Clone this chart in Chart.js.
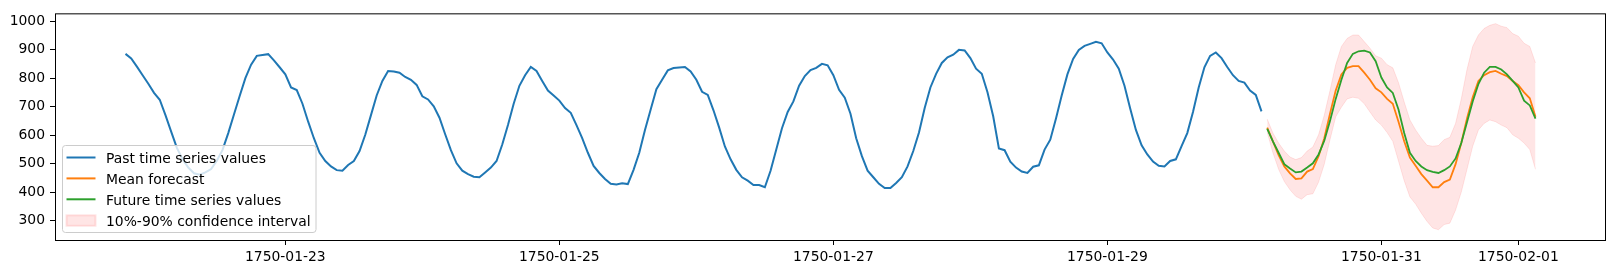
<!DOCTYPE html>
<html>
<head>
<meta charset="utf-8">
<script src="https://cdn.jsdelivr.net/npm/chart.js@4.4.1/dist/chart.umd.min.js"></script>
<style>
	html, body { margin: 0; padding: 0; background: #fff; }
	#wrap { width: 1614px; height: 274px; }
</style>
</head>
<body>
<div id="wrap"><canvas id="grafic"></canvas></div>
<script>
// hours counted from 1750-01-23 00:00
const pastStart = -28;
const forecastStart = 172;

const pastValues = [
	885, 869, 840, 810, 780, 748, 724, 670, 612, 555, 515, 486, 466, 461, 469, 481, 510, 548, 607, 672,
	737, 800, 847, 878, 881, 884, 862, 838,
	813, 767, 758, 710, 647, 589, 538, 509, 490, 477, 475, 495, 509, 544, 601, 670, 739, 790, 825, 823,
	819, 804, 794, 776, 736, 725, 701, 661, 603, 547, 501, 475, 463, 454, 452, 469, 486, 509, 567, 635,
	710, 773,
	810, 839, 825, 790, 756, 739, 721, 695, 678, 635, 589, 538, 492, 467, 446, 429, 427, 431, 428, 478,
	538, 618, 690, 761, 794, 827, 835, 837, 839, 823, 794, 752, 741, 687, 626, 560, 515, 478, 452, 440,
	425, 425, 417, 475, 549, 624, 681, 718, 773, 807, 828, 836, 850, 845, 810, 759, 731, 675, 589, 526,
	475, 452, 429, 414, 414, 432, 452, 490, 544, 609, 695, 767, 815, 853, 873, 882, 899, 897, 870, 833,
	815, 750, 666, 553, 547, 507, 486, 472, 467, 489, 494,
	549, 584, 658, 739, 813, 867, 899, 913, 920, 927, 922, 890, 865, 833, 773, 693, 618, 564, 532, 507,
	492, 490, 509, 515, 561, 607, 681, 767, 838, 878, 890, 870, 839, 810, 790, 784, 756, 741, 683
];
const meanForecast = [
	626, 578, 530, 490, 466, 446, 448, 472, 481, 526, 589, 675, 756, 813, 836, 842, 842, 819, 794, 764,
	750, 727, 710, 647, 578, 521, 492, 463, 440, 417, 417, 435, 444, 498, 572, 658, 733, 790, 810, 821,
	825, 815, 807, 790, 775, 750, 729, 664
];
const futureValues = [
	622, 578, 538, 498, 483, 469, 472, 486, 501, 532, 580, 649, 727, 794, 853, 885, 894, 896, 890, 859,
	802, 767, 748, 690, 607, 538, 509, 490, 477, 471, 467, 477, 490, 518, 572, 645, 718, 779, 819, 839,
	839, 830, 813, 790, 767, 721, 704, 658
];
const lower10 = [
	610, 538, 480, 437, 408, 385, 375, 391, 394, 435, 498, 584, 664, 698, 727, 733, 729, 710, 681, 653,
	635, 609, 578, 509, 440, 383, 358, 326, 297, 274, 268, 286, 291, 337, 400, 480, 561, 618, 641, 653,
	647, 635, 626, 601, 589, 572, 549, 480
];
const upper90 = [
	656, 607, 572, 544, 523, 514, 521, 544, 558, 601, 670, 756, 847, 911, 939, 951, 951, 928, 905, 878,
	870, 847, 836, 784, 716, 653, 618, 589, 564, 561, 563, 584, 592, 641, 727, 830, 911, 951, 974, 985,
	991, 982, 977, 956, 947, 922, 911, 853
];

const tickHours = [0, 48, 96, 144, 192, 216];
const tickLabels = ['1750-01-23', '1750-01-25', '1750-01-27', '1750-01-29', '1750-01-31', '1750-02-01'];
const yTicks = [300, 400, 500, 600, 700, 800, 900, 1000];

const points = (start, vals) => vals.map((v, i) => ({ x: start + i, y: v }));

// matplotlib style 5% margins
const allY = pastValues.concat(meanForecast, futureValues, lower10, upper90);
const yLo = Math.min(...allY), yHi = Math.max(...allY);
const xLo = pastStart, xHi = forecastStart + meanForecast.length - 1;
const padY = (yHi - yLo) * 0.05, padX = (xHi - xLo) * 0.05;

const FONT = '13.9px "DejaVu Sans"';
Chart.defaults.font.family = 'DejaVu Sans';
Chart.defaults.font.size = 13.9;
Chart.defaults.color = '#000';

const frame = {
	id: 'frame',
	afterDraw(chart) {
		const ctx = chart.ctx, a = chart.chartArea;
		ctx.save();
		ctx.strokeStyle = '#000';
		ctx.lineWidth = 1;
		ctx.strokeRect(a.left + 0.5, a.top + 0.5, a.right - a.left - 1, a.bottom - a.top);
		ctx.restore();
	}
};

const legendBox = {
	id: 'legendBox',
	afterDatasetsDraw(chart) {
		const ctx = chart.ctx, a = chart.chartArea;
		const items = chart.data.datasets.filter(d => d.label);
		const x0 = a.left + 7.5, y1 = a.bottom - 7.5, w = 253.5, h = 87;
		const y0 = y1 - h;
		ctx.save();
		ctx.beginPath();
		ctx.roundRect(x0, y0, w, h, 3);
		ctx.fillStyle = 'rgba(255,255,255,0.8)';
		ctx.fill();
		ctx.strokeStyle = '#cccccc';
		ctx.lineWidth = 1;
		ctx.stroke();
		const rows = [75, 54.1, 33.2, 12.2];
		ctx.font = FONT;
		ctx.textBaseline = 'alphabetic';
		items.forEach((d, i) => {
			const cy = y1 - rows[i];
			if (d.fill) {
				ctx.fillStyle = d.backgroundColor;
				ctx.fillRect(x0 + 4, cy - 5, 29, 10.5);
				ctx.strokeStyle = d.borderColor;
				ctx.strokeRect(x0 + 4, cy - 5, 29, 10.5);
			} else {
				ctx.beginPath();
				ctx.moveTo(x0 + 4, cy);
				ctx.lineTo(x0 + 33, cy);
				ctx.strokeStyle = d.borderColor;
				ctx.lineWidth = 2;
				ctx.stroke();
			}
			ctx.fillStyle = '#000';
			ctx.fillText(d.label, x0 + 43.5, cy + 5.3);
		});
		ctx.restore();
	}
};

new Chart(document.getElementById('grafic'), {
	type: 'line',
	data: {
		datasets: [
			{ label: 'Past time series values', data: points(pastStart, pastValues), borderColor: '#1f77b4', borderWidth: 2, order: 1 },
			{ label: 'Mean forecast', data: points(forecastStart, meanForecast), borderColor: '#ff7f0e', borderWidth: 1.8, order: 2 },
			{ label: 'Future time series values', data: points(forecastStart, futureValues), borderColor: '#2ca02c', borderWidth: 1.8, order: 1 },
			{ data: points(forecastStart, lower10), borderColor: 'rgba(255,0,0,0.1)', borderWidth: 1, fill: false, order: 4 },
			{
				label: '10%-90% confidence interval', data: points(forecastStart, upper90),
				borderColor: 'rgba(255,0,0,0.1)', backgroundColor: 'rgba(255,0,0,0.1)', borderWidth: 1, fill: '-1', order: 3
			}
		]
	},
	options: {
		responsive: true,
		maintainAspectRatio: false,
		animation: false,
		layout: { padding: { top: 9, right: 8, left: 0, bottom: 0 } },
		elements: { point: { radius: 0 }, line: { tension: 0 } },
		plugins: { legend: { display: false }, tooltip: { enabled: false } },
		scales: {
			x: {
				type: 'linear',
				min: xLo - padX,
				max: xHi + padX,
				border: { display: false },
				grid: { drawOnChartArea: false, drawTicks: true, tickLength: 5, tickColor: '#000', lineWidth: 1 },
				afterBuildTicks: s => { s.ticks = tickHours.map(v => ({ value: v })); },
				afterFit: s => { s.height = 34; },
				ticks: { autoSkip: false, maxRotation: 0, padding: 4, callback: (v, i) => tickLabels[i] }
			},
			y: {
				min: yLo - padY,
				max: yHi + padY,
				border: { display: false },
				grid: { drawOnChartArea: false, drawTicks: true, tickLength: 5, tickColor: '#000', lineWidth: 1 },
				afterBuildTicks: s => { s.ticks = yTicks.map(v => ({ value: v })); },
				afterFit: s => { s.width = 55; },
				ticks: { padding: 5, callback: v => String(v) }
			}
		}
	},
	plugins: [frame, legendBox]
});
</script>
</body>
</html>
